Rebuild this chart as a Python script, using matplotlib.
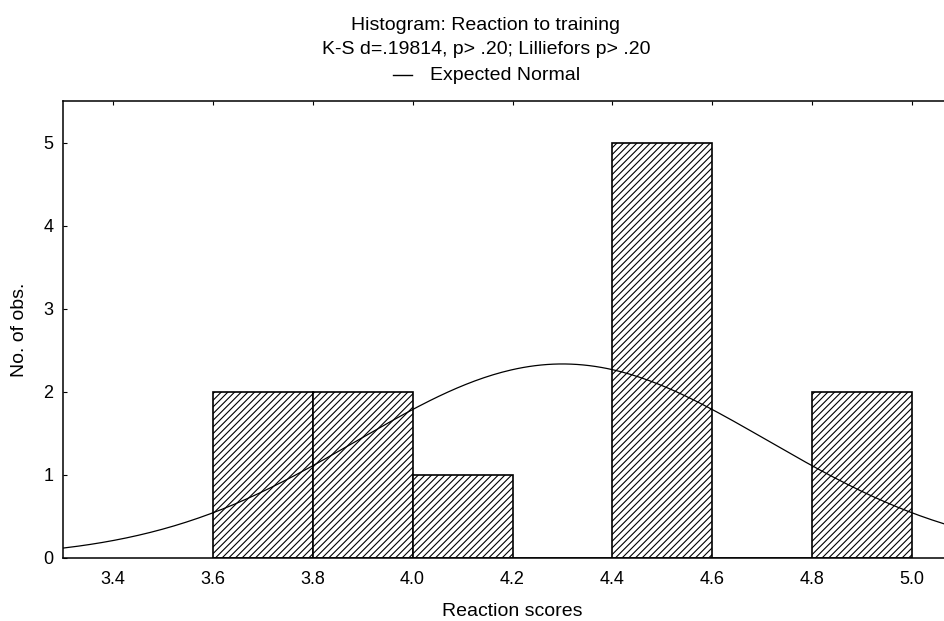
import numpy as np
import matplotlib
matplotlib.use("Agg")
import matplotlib.pyplot as plt

plt.rcParams['font.family'] = ['Liberation Sans', 'DejaVu Sans']
plt.rcParams['hatch.linewidth'] = 0.8

# bin left edges and counts
bin_left = [3.6, 3.8, 4.0, 4.2, 4.4, 4.6, 4.8]
counts = [2, 2, 1, 0, 5, 0, 2]
bin_width = 0.2

# expected normal parameters (fitted to the 12 observations)
n_obs = 12
mu = 4.30
sigma = 0.41

x_ticks = [3.4, 3.6, 3.8, 4.0, 4.2, 4.4, 4.6, 4.8, 5.0]
y_ticks = [0, 1, 2, 3, 4, 5]

W, H = 944, 621
fig = plt.figure(figsize=(W / 100, H / 100), dpi=100)
# axes runs past the right edge of the picture, like the scan
ax = fig.add_axes([63 / W, 1 - 558 / H, (962 - 63) / W, (558 - 101) / H])

ax.bar(bin_left, counts, width=bin_width, align='edge', color='white',
       edgecolor='black', linewidth=1.2, hatch='/////', zorder=2)

xs = np.linspace(3.3, 5.1, 300)
ys = n_obs * bin_width / (sigma * np.sqrt(2 * np.pi)) * np.exp(-0.5 * ((xs - mu) / sigma) ** 2)
ax.plot(xs, ys, color='black', linewidth=0.9, zorder=3)

ax.set_xlim(3.3, 5.1)
ax.set_ylim(0, 5.5)
ax.set_xticks(x_ticks)
ax.set_xticklabels([f"{t:.1f}" for t in x_ticks])
ax.set_yticks(y_ticks)
ax.tick_params(axis='x', direction='in', top=True, bottom=False, length=3, labelsize=13, pad=9)
ax.tick_params(axis='y', direction='in', left=True, right=False, length=3, labelsize=13, pad=7)
for s in ax.spines.values():
    s.set_linewidth(1.1)
ax.spines['right'].set_visible(False)

ax.set_xlabel('Reaction scores', fontsize=14, va='center')
ax.xaxis.set_label_coords(0.5, -(612 - 558) / (558 - 101))
ax.set_ylabel('No. of obs.', fontsize=14, va='center')
ax.yaxis.set_label_coords(-(63 - 20) / (962 - 63), 0.5)

cx = 486 / W
fig.text(cx, 1 - 25 / H, 'Histogram: Reaction to training', ha='center', va='center', fontsize=14)
fig.text(cx, 1 - 50 / H, 'K-S d=.19814, p> .20; Lilliefors p> .20', ha='center', va='center', fontsize=14)
fig.lines.append(plt.Line2D([393 / W, 412 / W], [1 - 75 / H, 1 - 75 / H],
                            transform=fig.transFigure, color='black', linewidth=1.0))
fig.text(430 / W, 1 - 75 / H, 'Expected Normal', ha='left', va='center', fontsize=14)

fig.savefig('out.png', dpi=100)
